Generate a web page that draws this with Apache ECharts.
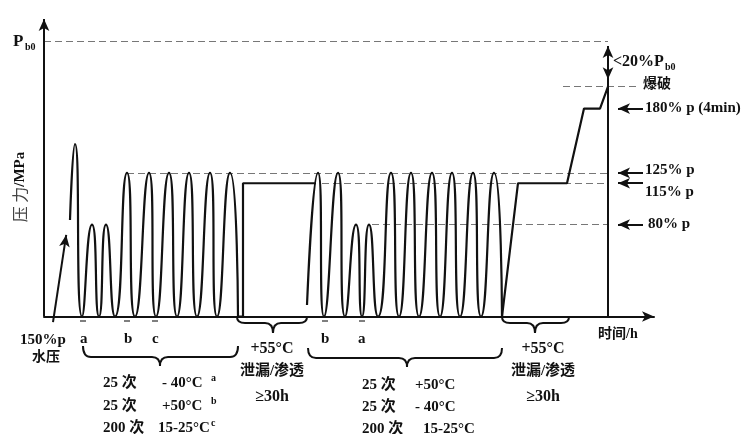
<!DOCTYPE html>
<html><head><meta charset="utf-8">
<script src="https://cdn.jsdelivr.net/npm/echarts@6/dist/echarts.min.js"></script>
<style>html,body{margin:0;padding:0;background:#fff}#c{width:745px;height:434px}</style>
</head><body><div id="c"></div>
<script>
// ---- data (time: arbitrary h units, pressure: % of p) ----
const g1Time     = [26, 31, 38, 48, 55, 62, 71, 83, 91, 105, 112, 125, 133, 145, 153, 166, 173, 186, 194];
const g1Pressure = [84, 150, 0, 80, 0, 80, 0, 125, 0, 125, 0, 125, 0, 125, 0, 125, 0, 125, 0];
const soak1Time     = [194, 199, 199, 272];
const soak1Pressure = [0, 0, 116, 116];
const g2Time     = [263, 274, 280, 294, 301, 312, 318, 325, 334, 347, 355, 367, 375, 388, 396, 408, 416, 429, 437, 450, 458];
const g2Pressure = [10, 125, 0, 125, 0, 80, 0, 80, 0, 125, 0, 125, 0, 125, 0, 125, 0, 125, 0, 125, 0];
const finalTime     = [458, 474, 523, 540, 556, 564];
const finalPressure = [0, 116, 116, 181, 181, 200];
const pb0Level = 240, burstLevel = 200, burstTime = 564;
const levelValues = [181, 125, 116, 80];
const levelLabels = ['180% p (4min)', '125% p', '115% p', '80% p'];
const dashStarts  = [0, 83, 278, 328];      // start times of dashed reference lines: Pb0,125,115,80
const dashLevels  = [240, 125, 116, 80];
const group1Rows = [['25 次', '- 40°C', 'a'], ['25 次', '+50°C', 'b'], ['200 次', '15-25°C', 'c']];
const group2Rows = [['25 次', '+50°C'], ['25 次', '- 40°C'], ['200 次', '15-25°C']];
const soakLines = ['+55°C', '泄漏/渗透', '≥30h'];

const zip = (a, b) => a.map((v, i) => [v, b[i]]);
const FONT = "'Liberation Serif','Noto Sans CJK SC',serif";
const INK = '#111';
const T = (text, x, y, size, align, weight, fam) => ({
  type: 'text', x, y, silent: true, z: 100,
  style: { text, font: `${weight || 'bold'} ${size || 15}px ${fam || FONT}`, fill: INK,
           textAlign: align || 'left', textVerticalAlign: 'middle' }
});
const bs = { stroke: INK, lineWidth: 2, fill: null };
const Q = (x1, y1, cx, cy, x2, y2) => ({ type: 'bezierCurve', silent: true, z: 100,
  shape: { x1, y1, cpx1: cx, cpy1: cy, x2, y2 }, style: bs });
const L = (x1, y1, x2, y2, style) => ({ type: 'line', silent: true, z: 100,
  shape: { x1, y1, x2, y2 }, style: style || bs });
const brace = (x1, x2, xc, yTop, yMid, yTip) => [
  Q(x1, yTop, x1, yMid, x1 + 8, yMid), L(x1 + 8, yMid, xc - 8, yMid),
  Q(xc - 8, yMid, xc, yMid, xc, yTip), Q(xc, yTip, xc, yMid, xc + 8, yMid),
  L(xc + 8, yMid, x2 - 8, yMid), Q(x2 - 8, yMid, x2, yMid, x2, yTop)
];
const macron = (x) => L(x - 3, 321, x + 3, 321, { stroke: '#555', lineWidth: 1.5 });

const lineStyle = { color: INK, width: 2.2 };
const dashStyle = { color: '#777', width: 1, type: [7, 4] };
const arrowStyle = { color: INK, width: 2, type: 'solid' };

const dashedData = dashStarts.map((s, i) => [{ coord: [s, dashLevels[i]] }, { coord: [burstTime, dashLevels[i]] }]);
dashedData.push([{ coord: [519, burstLevel] }, { coord: [596, burstLevel] }]);

const arrowData = levelValues.map(v => [{ coord: [599, v] }, { coord: [574, v] }]);
arrowData.push([{ coord: [0, 0] }, { coord: [0, 259] }]);                    // pressure axis
arrowData.push([{ coord: [burstTime, 0] }, { coord: [burstTime, 235.5] }]);  // burst vertical
arrowData.push([{ coord: [burstTime, 216] }, { coord: [burstTime, 206.5] }]); // <20% Pb0 down arrow
arrowData.push([{ coord: [9, -4.8] }, { coord: [22.2, 71] }]);               // 150% p water pressure

const graphics = [
  T('P', 13, 42, 17), T('b0', 25, 47, 10),
  { type: 'text', x: 20, y: 187, rotation: Math.PI / 2, silent: true,
    style: { text: '{n|压 力}{b|/MPa}', textAlign: 'center', textVerticalAlign: 'middle',
      rich: { n: { font: "normal 16px 'Noto Sans CJK SC'", fill: '#444' }, b: { font: `bold 15px ${FONT}`, fill: INK } } } },
  T('150%p', 20, 340, 15), T('水压', 32, 357, 14),
  T('a', 80, 339, 15), T('b', 124, 339, 15), T('c', 152, 339, 15),
  T('b', 321, 339, 15), T('a', 358, 339, 15),
  macron(83), macron(127), macron(155), macron(325), macron(362),
  ...brace(83, 238, 160, 346, 357, 366), ...brace(237, 307, 273, 317, 323, 333),
  ...brace(308, 502, 407, 348, 358, 367), ...brace(502, 569, 535, 317, 323, 333),
  T('时间/h', 598, 334, 14),
  T('<20%P', 613, 62, 16), T('b0', 665, 67, 10), T('爆破', 643, 84, 14)
];
const g1Y = [383, 406, 428], g1X2 = [162, 162, 158];
group1Rows.forEach((r, i) => {
  graphics.push(T(r[0], 103, g1Y[i], 15), T(r[1], g1X2[i], g1Y[i], 15), T(r[2], 211, g1Y[i] - 5, 10));
});
const g2Y = [385, 407, 429], g2X2 = [415, 415, 423];
group2Rows.forEach((r, i) => {
  graphics.push(T(r[0], 362, g2Y[i], 15), T(r[1], g2X2[i], g2Y[i], 15));
});
const soakY = [349, 371, 397];
soakLines.forEach((s, i) => {
  graphics.push(T(s, 272, soakY[i], i === 1 ? 15 : 16, 'center'), T(s, 543, soakY[i], i === 1 ? 15 : 16, 'center'));
});
const labY = [108, 170, 192, 224], labX = [645, 645, 645, 648];
levelLabels.forEach((l, i) => graphics.push(T(l, labX[i], labY[i], 15)));

const chart = echarts.init(document.getElementById('c'), null, { renderer: 'canvas' });
chart.setOption({
  animation: false,
  backgroundColor: '#fff',
  grid: { left: 44, top: 15.5, width: 610, bottom: 106, containLabel: false },
  xAxis: { type: 'value', min: 0, max: 610,
    axisLine: { show: true, onZero: true, symbol: ['none', 'arrow'], symbolSize: [8, 12], lineStyle: { color: INK, width: 2 } },
    axisTick: { show: false }, axisLabel: { show: false }, splitLine: { show: false } },
  yAxis: { type: 'value', min: -10, max: 262,
    axisLine: { show: false }, axisTick: { show: false }, axisLabel: { show: false }, splitLine: { show: false } },
  series: [
    { type: 'line', data: [], z: 1, silent: true,
      markLine: { silent: true, symbol: ['none', 'none'], label: { show: false }, lineStyle: dashStyle, data: dashedData } },
    { type: 'line', data: zip(g1Time, g1Pressure), smooth: 0.7, symbol: 'none', lineStyle, z: 5 },
    { type: 'line', data: zip(soak1Time, soak1Pressure), symbol: 'none', lineStyle, z: 5 },
    { type: 'line', data: zip(g2Time, g2Pressure), smooth: 0.7, symbol: 'none', lineStyle, z: 5 },
    { type: 'line', data: zip(finalTime, finalPressure), symbol: 'none', lineStyle, z: 5,
      markLine: { silent: true, symbol: ['none', 'arrow'], symbolSize: [8, 12], label: { show: false },
        lineStyle: arrowStyle, data: arrowData } }
  ],
  graphic: graphics
});
</script></body></html>
